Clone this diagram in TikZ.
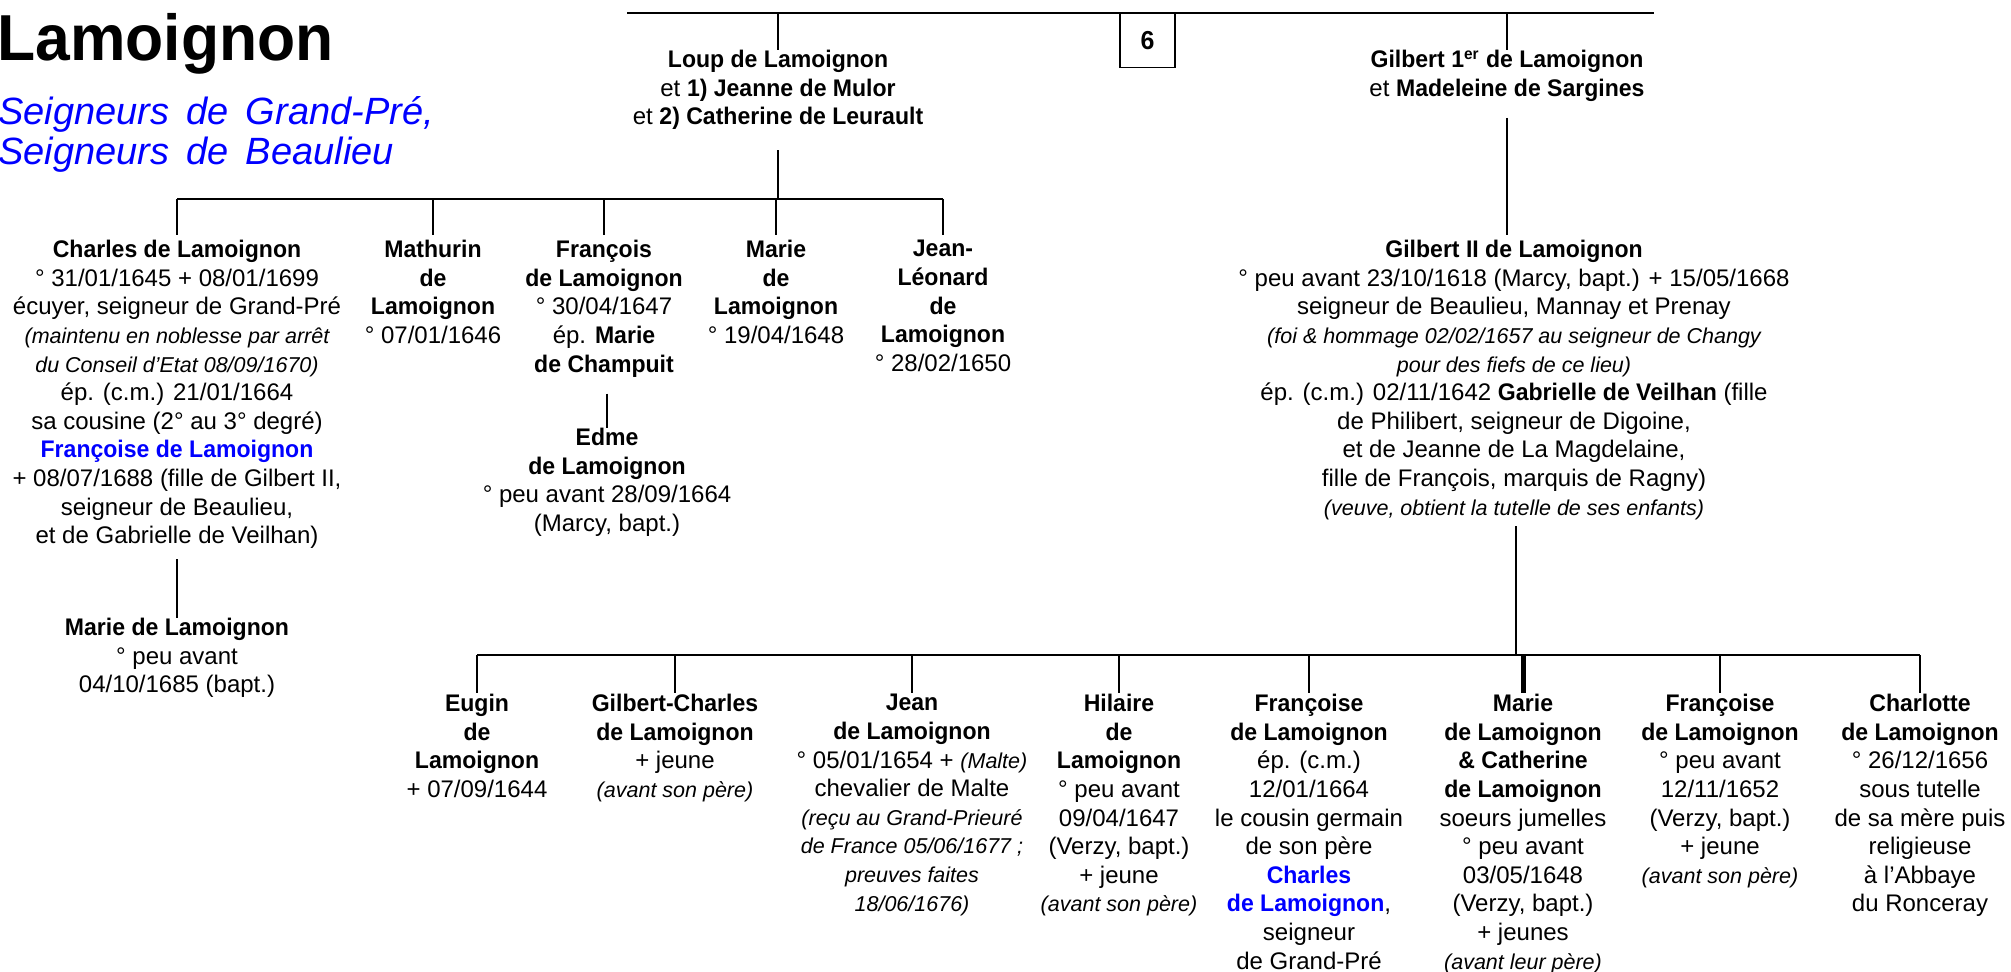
\documentclass[tikz,border=0pt]{standalone}
\usepackage{fontspec}
\setmainfont{Liberation Sans}[BoldFeatures={FakeStretch=0.96}]
\newcommand{\lmit}[1]{{\fontsize{10.75}{14.3}\selectfont\itshape #1}}
\newcommand{\lmbl}[1]{{\color{blue}\bfseries #1}}
\begin{document}
\begin{tikzpicture}[x=0.5pt,y=-0.5pt,
 person/.style={align=center,anchor=north,inner sep=0pt,font=\fontsize{12}{14.3}\selectfont},
 link/.style={line width=1pt},
 bar/.style={line width=1.3pt},
 twin/.style={line width=2.5pt}]
\useasboundingbox (0,0) rectangle (2011,972);

% title
\node[anchor=west,inner sep=0pt,font=\fontsize{32.5}{36}\selectfont\bfseries] (title) at (-3,44) {Lamoignon};
\node[anchor=west,inner sep=0pt,align=left,text=blue,font=\fontsize{19}{20}\selectfont\itshape] (sub) at (-2,134) {Seigneurs\hspace{0.45em}de\hspace{0.45em}Grand-Pré,\\Seigneurs\hspace{0.45em}de\hspace{0.45em}Beaulieu};

% top generation
\coordinate (tbL) at (627,13);
\coordinate (tbR) at (1654,13);
\draw[bar] (tbL) -- (tbR);
\node[draw,line width=0.6pt,minimum width=27.5pt,minimum height=27pt,anchor=north,inner sep=0pt,font=\fontsize{13}{15}\selectfont\bfseries] (num) at (1147.5,13) {6};

\node[person] (loup) at (778,50) {\textbf{Loup de Lamoignon}\\et \textbf{1) Jeanne de Mulor}\\et \textbf{2) Catherine de Leurault}};
\node[person] (gilb1) at (1507,50) {\textbf{Gilbert 1\textsuperscript{er} de Lamoignon}\\et \textbf{Madeleine de Sargines}};
\draw[link] (loup.north |- tbL) -- (loup.north);
\draw[link] (gilb1.north |- tbL) -- (gilb1.north);

% children of Loup
\coordinate (lbar) at (0,199);
\node[person] (charles) at (177,240) {\textbf{Charles de Lamoignon}\\
° 31/01/1645 + 08/01/1699\\
écuyer, seigneur de Grand-Pré\\
\lmit{(maintenu en noblesse par arrêt}\\
\lmit{du Conseil d’Etat 08/09/1670)}\\
ép. (c.m.) 21/01/1664\\
sa cousine (2° au 3° degré)\\
\lmbl{Françoise de Lamoignon}\\
+ 08/07/1688 (fille de Gilbert II,\\
seigneur de Beaulieu,\\
et de Gabrielle de Veilhan)};
\node[person] (mathurin) at (433,240) {\textbf{Mathurin}\\\textbf{de}\\\textbf{Lamoignon}\\° 07/01/1646};
\node[person] (francois) at (604,240) {\textbf{François}\\\textbf{de Lamoignon}\\° 30/04/1647\\ép. \textbf{Marie}\\\textbf{de Champuit}};
\node[person] (marie1) at (776,240) {\textbf{Marie}\\\textbf{de}\\\textbf{Lamoignon}\\° 19/04/1648};
\node[person] (jeanleo) at (943,240) {\textbf{Jean-}\\\textbf{Léonard}\\\textbf{de}\\\textbf{Lamoignon}\\° 28/02/1650};

\draw[link] ([yshift=-10pt]loup.south) -- (loup.south |- lbar);
\draw[bar] (charles.north |- lbar) -- (jeanleo.north |- lbar);
\foreach \n in {charles,mathurin,francois,marie1,jeanleo}
  \draw[link] (\n.north |- lbar) -- ([yshift=2.5pt]\n.north);

\node[person] (mariec) at (177,618) {\textbf{Marie de Lamoignon}\\° peu avant\\04/10/1685 (bapt.)};
\draw[link] ([yshift=-5pt]charles.south) -- (mariec.north);

\node[person] (edme) at (607,428) {\textbf{Edme}\\\textbf{de Lamoignon}\\° peu avant 28/09/1664\\(Marcy, bapt.)};
\draw[link] ([yshift=-8pt]edme.north |- francois.south) -- (edme.north);

% Gilbert II
\node[person] (gilb2) at (1514,240) {\textbf{Gilbert II de Lamoignon}\\
° peu avant 23/10/1618 (Marcy, bapt.) + 15/05/1668\\
seigneur de Beaulieu, Mannay et Prenay\\
\lmit{(foi \& hommage 02/02/1657 au seigneur de Changy}\\
\lmit{pour des fiefs de ce lieu)}\\
ép. (c.m.) 02/11/1642 \textbf{Gabrielle de Veilhan} (fille\\
de Philibert, seigneur de Digoine,\\
et de Jeanne de La Magdelaine,\\
fille de François, marquis de Ragny)\\
\lmit{(veuve, obtient la tutelle de ses enfants)}};
\draw[link] ([yshift=-8pt]gilb1.south) -- ([yshift=2.5pt]gilb1.south |- gilb2.north);

% children of Gilbert II
\coordinate (gbar) at (0,655);
\coordinate (gdrop) at (1516,0);
\node[person] (eugin) at (477,694) {\textbf{Eugin}\\\textbf{de}\\\textbf{Lamoignon}\\+ 07/09/1644};
\node[person] (gilch) at (675,694) {\textbf{Gilbert-Charles}\\\textbf{de Lamoignon}\\+ jeune\\\lmit{(avant son père)}};
\node[person] (jean) at (912,694) {\textbf{Jean}\\\textbf{de Lamoignon}\\° 05/01/1654 + \lmit{(Malte)}\\chevalier de Malte\\\lmit{(reçu au Grand-Prieuré}\\\lmit{de France 05/06/1677 ;}\\\lmit{preuves faites}\\\lmit{18/06/1676)}};
\node[person] (hilaire) at (1119,694) {\textbf{Hilaire}\\\textbf{de}\\\textbf{Lamoignon}\\° peu avant\\09/04/1647\\(Verzy, bapt.)\\+ jeune\\\lmit{(avant son père)}};
\node[person] (franc1) at (1309,694) {\textbf{Françoise}\\\textbf{de Lamoignon}\\ép. (c.m.)\\12/01/1664\\le cousin germain\\de son père\\\lmbl{Charles}\\\lmbl{de Lamoignon},\\seigneur\\de Grand-Pré};
\node[person] (marie2) at (1523,694) {\textbf{Marie}\\\textbf{de Lamoignon}\\\textbf{\& Catherine}\\\textbf{de Lamoignon}\\soeurs jumelles\\° peu avant\\03/05/1648\\(Verzy, bapt.)\\+ jeunes\\\lmit{(avant leur père)}};
\node[person] (franc2) at (1720,694) {\textbf{Françoise}\\\textbf{de Lamoignon}\\° peu avant\\12/11/1652\\(Verzy, bapt.)\\+ jeune\\\lmit{(avant son père)}};
\node[person] (charlotte) at (1920,694) {\textbf{Charlotte}\\\textbf{de Lamoignon}\\° 26/12/1656\\sous tutelle\\de sa mère puis\\religieuse\\à l’Abbaye\\du Ronceray};

\draw[link] ([yshift=-3pt]gilb2.south -| gdrop) -- (gdrop |- gbar);
\draw[bar] (eugin.north |- gbar) -- (charlotte.north |- gbar);
\foreach \n in {eugin,gilch,jean,hilaire,franc1,franc2,charlotte}
  \draw[link] (\n.north |- gbar) -- ([yshift=0.5pt]\n.north);
\draw[twin] (marie2.north |- gbar) -- ([yshift=0.5pt]marie2.north);
\end{tikzpicture}
\end{document}
